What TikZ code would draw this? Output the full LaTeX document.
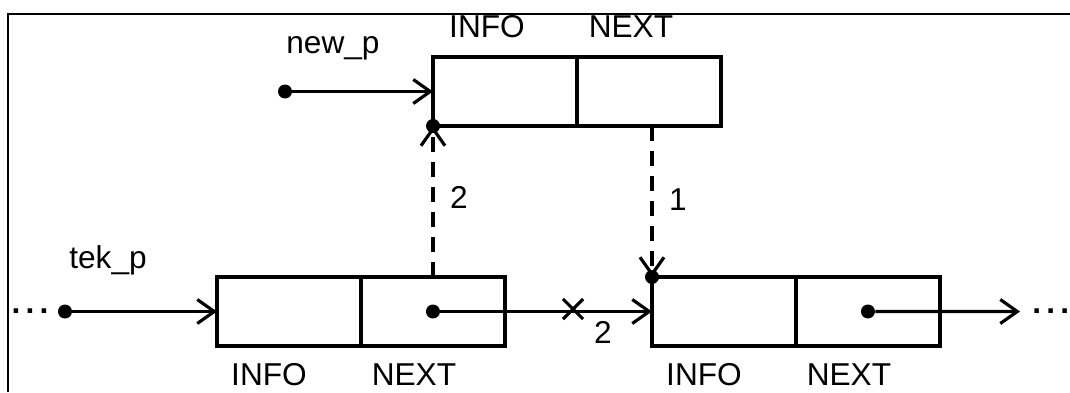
\documentclass[tikz,border=0pt]{standalone}
\usepackage{fontspec}
\setmainfont{Liberation Sans}
\usetikzlibrary{arrows.meta, positioning, shapes.misc}

\begin{document}
\begin{tikzpicture}[
    x=0.02cm, y=-0.02cm,
    font=\fontsize{18}{21}\selectfont,
    cell/.style={rectangle, draw=black, line width=1.8pt, minimum width=2.88cm, minimum height=1.38cm, inner sep=0pt, outer sep=0pt},
    lbl/.style={inner sep=0pt},
    ptr/.style={circle, fill=black, inner sep=0pt, minimum size=0.28cm},
    arrow/.style={line width=1.8pt, -{Straight Barb[length=0.34cm, width=0.48cm, line width=1.8pt]}},
    darrow/.style={arrow, dash pattern=on 0.3cm off 0.2cm},
    cut/.style={cross out, draw=black, line width=1.8pt, minimum size=0.34cm, inner sep=0pt}
]
\useasboundingbox (0,0) rectangle (1070,392);
\draw[line width=1.2pt] (8,392) -- (8,14) -- (1070,14);

% Nodes
\node (newinfo) [cell, anchor=north west] at (433,57) {};
\node (newnext) [cell, right=0pt of newinfo] {};
\node (info1) [cell, anchor=north west] at (217,277) {};
\node (next1) [cell, right=0pt of info1] {};
\node (info2) [cell, anchor=north west] at (652,277) {};
\node (next2) [cell, right=0pt of info2] {};

% Field names
\node (newinfotxt) [lbl, above=0.38cm of newinfo, xshift=-0.36cm] {INFO};
\node (newnexttxt) [lbl, above=0.38cm of newnext, xshift=-0.36cm] {NEXT};
\node (info1txt) [lbl, below=0.34cm of info1, xshift=-0.4cm] {INFO};
\node (next1txt) [lbl, below=0.34cm of next1, xshift=-0.38cm] {NEXT};
\node (info2txt) [lbl, below=0.34cm of info2, xshift=-0.4cm] {INFO};
\node (next2txt) [lbl, below=0.34cm of next2, xshift=-0.38cm] {NEXT};

% Pointers
\node (newp) [ptr] at (285,91.5) {};
\node (newplbl) [lbl, anchor=base] at (333,53) {new\_p};
\node (tekp) [ptr] at (65,311.5) {};
\node (tekplbl) [lbl, anchor=base] at (108,268) {tek\_p};
\node (next1p) [ptr] at (next1.center) {};
\node (next2p) [ptr] at (next2.center) {};
\node (ldots) [lbl, anchor=base] at (30,313) {\bfseries .\,.\,.};
\coordinate (tail) at (1020,311.5);
\node (rdots) [lbl, anchor=base west] at (1032,313) {\bfseries .\,.\,.};
\node (topjoin) [ptr] at (newinfo.south west) {};
\node (botjoin) [ptr] at (info2.north west) {};

% Step marks
\node (cut) [cut] at (573,309) {};
\node (cutnum) [lbl] at (603,332) {2};
\node (num2) [lbl] at (459,197) {2};
\node (num1) [lbl] at (678,200) {1};

% Connections
\draw [arrow] (newp) -- (newp -| newinfo.west);
\draw [arrow] (tekp) -- (tekp -| info1.west);
\draw [arrow] (next1p) -- (info2.west);
\draw [arrow] (next2p) -- (tail);
\draw [darrow] (newinfo.south west |- next1.north) -- (topjoin.center);
\draw [darrow] (info2.north west |- newnext.south) -- (botjoin.center);

\end{tikzpicture}
\end{document}
